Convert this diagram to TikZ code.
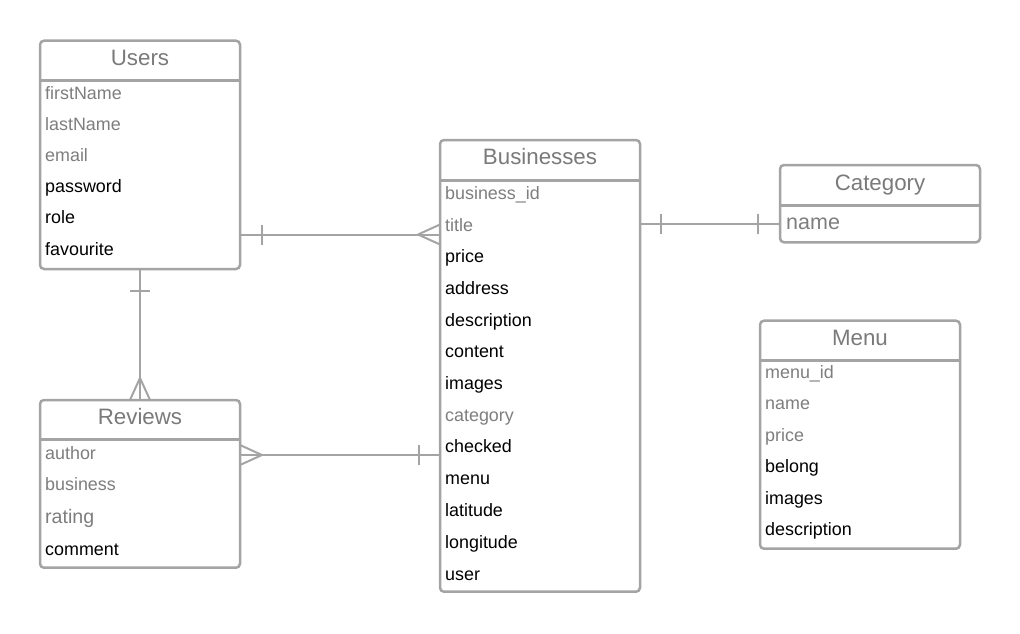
\documentclass[tikz,border=0pt]{standalone}
\usepackage{fontspec}
\setmainfont{Liberation Sans}
\definecolor{boxc}{HTML}{A4A4A4}
\definecolor{linec}{HTML}{A4A4A4}
\definecolor{txtg}{HTML}{7E7E7E}
\definecolor{ttlc}{HTML}{7A7A7A}
\begin{document}
\begin{tikzpicture}[x=1pt,y=-1pt,
  tbl/.style={draw=boxc, line width=2.5pt, rounded corners=4pt, fill=white,
    inner sep=0pt, outer sep=0pt, minimum width=200pt, anchor=north west},
  hdr/.style={draw=boxc, line width=2.5pt},
  ttl/.style={text=ttlc, font=\fontsize{22.3}{25}\selectfont, anchor=base, inner sep=0pt},
  fld/.style={font=\fontsize{17.9}{20}\selectfont, anchor=base west, inner sep=0pt},
  fg/.style={fld, text=txtg},
  fb/.style={fld, text=black},
  conn/.style={draw=linec, line width=2pt}]
\useasboundingbox (0,0) rectangle (1020,633);

% ---------- Users ----------
\node[tbl, minimum height=228.3pt] (users) at (40,40.7) {};
\draw[hdr] (users.west |- 0,80.7) -- (users.east |- 0,80.7);
\node[ttl] (usersT) at (140,65) {Users};
\node[fg] (u1) at (45,99) {firstName};
\node[fg] (u2) at (45,130.2) {lastName};
\node[fg] (u3) at (45,161.4) {email};
\node[fb] (u4) at (45,192.6) {password};
\node[fb] (u5) at (45,223.8) {role};
\node[fb] (u6) at (45,255) {favourite};

% ---------- Reviews ----------
\node[tbl, minimum height=167.7pt] (reviews) at (40,400) {};
\draw[hdr] (reviews.west |- 0,439.5) -- (reviews.east |- 0,439.5);
\node[ttl] (reviewsT) at (140,424.3) {Reviews};
\node[fg] (r1) at (45,459) {author};
\node[fg] (r2) at (45,490.5) {business};
\node[fg, font=\fontsize{19.6}{22}\selectfont] (r3) at (45,523.3) {rating};
\node[fb] (r4) at (45,555.7) {comment};

% ---------- Businesses ----------
\node[tbl, minimum height=451.7pt] (biz) at (440,140) {};
\draw[hdr] (biz.west |- 0,180.5) -- (biz.east |- 0,180.5);
\node[ttl] (bizT) at (540,164.5) {Businesses};
\node[fg] (b1) at (445,199.3) {business\_id};
\node[fg] (b2) at (445,231) {title};
\node[fb] (b3) at (445,262.7) {price};
\node[fb] (b4) at (445,294.4) {address};
\node[fb] (b5) at (445,326.1) {description};
\node[fb] (b6) at (445,357.8) {content};
\node[fb] (b7) at (445,389.5) {images};
\node[fg] (b8) at (445,421.2) {category};
\node[fb] (b9) at (445,452.5) {checked};
\node[fb] (b10) at (445,484.3) {menu};
\node[fb] (b11) at (445,516.1) {latitude};
\node[fb] (b12) at (445,548.1) {longitude};
\node[fb] (b13) at (445,580) {user};

% ---------- Category ----------
\node[tbl, minimum height=77.3pt] (cat) at (780,165) {};
\draw[hdr] (cat.west |- 0,205.7) -- (cat.east |- 0,205.7);
\node[ttl] (catT) at (880,190) {Category};
\node[fg, font=\fontsize{21.5}{24}\selectfont] (c1) at (786,229) {name};

% ---------- Menu ----------
\node[tbl, minimum height=228pt] (menu) at (760,320.7) {};
\draw[hdr] (menu.west |- 0,360.5) -- (menu.east |- 0,360.5);
\node[ttl] (menuT) at (860,345) {Menu};
\node[fg] (m1) at (765,378.5) {menu\_id};
\node[fg] (m2) at (765,409.9) {name};
\node[fg] (m3) at (765,441.3) {price};
\node[fb] (m4) at (765,472.7) {belong};
\node[fb] (m5) at (765,504.1) {images};
\node[fb] (m6) at (765,535.5) {description};

% ---------- Connectors ----------
% Users -- Businesses (one to many)
\coordinate (ub1) at (users.east |- 0,234.5);
\coordinate (ub2) at (biz.west |- 0,234.5);
\draw[conn] (ub1) -- (ub2);
\draw[conn] ([xshift=21.5pt]ub1) ++(0,-10) -- ++(0,20);
\draw[conn] ([xshift=-22pt]ub2) -- ([yshift=10pt]ub2);
\draw[conn] ([xshift=-22pt]ub2) -- ([yshift=-10pt]ub2);

% Users -- Reviews (one to many)
\coordinate (ur1) at (users.south);
\coordinate (ur2) at (reviews.north);
\draw[conn] (ur1) -- (ur2);
\draw[conn] ([yshift=-21.7pt]ur1) ++(-10,0) -- ++(20,0);
\draw[conn] ([yshift=22pt]ur2) -- ([xshift=-10pt]ur2);
\draw[conn] ([yshift=22pt]ur2) -- ([xshift=10pt]ur2);

% Reviews -- Businesses (many to one)
\coordinate (rb1) at (reviews.east |- 0,455);
\coordinate (rb2) at (biz.west |- 0,455);
\draw[conn] (rb1) -- (rb2);
\draw[conn] ([xshift=22pt]rb1) -- ([yshift=10pt]rb1);
\draw[conn] ([xshift=22pt]rb1) -- ([yshift=-10pt]rb1);
\draw[conn] ([xshift=-21pt]rb2) ++(0,-10) -- ++(0,20);

% Businesses -- Category (one to one)
\coordinate (bc1) at (biz.east |- 0,224);
\coordinate (bc2) at (cat.west |- 0,224);
\draw[conn] (bc1) -- (bc2);
\draw[conn] ([xshift=21pt]bc1) ++(0,-10) -- ++(0,20);
\draw[conn] ([xshift=-22pt]bc2) ++(0,-10) -- ++(0,20);
\end{tikzpicture}
\end{document}
